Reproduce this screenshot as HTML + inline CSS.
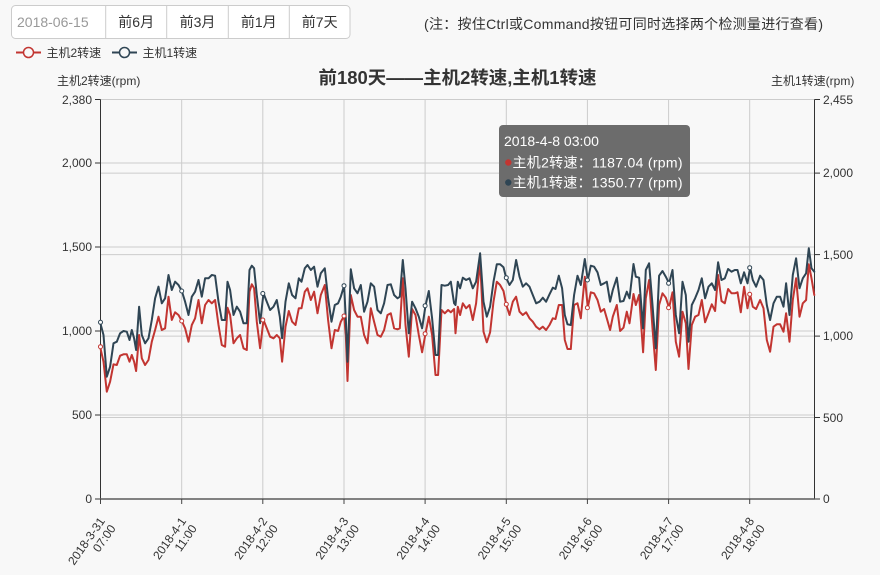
<!DOCTYPE html>
<html>
<head>
<meta charset="utf-8">
<style>
html,body{margin:0;padding:0;background:#f8f8f8;}
body{width:880px;height:575px;overflow:hidden;}
svg{display:block;}
text{font-family:"Liberation Sans","Noto Sans CJK SC",sans-serif;}
</style>
</head>
<body>
<svg width="880" height="575" viewBox="0 0 880 575" xmlns="http://www.w3.org/2000/svg">
<rect x="0" y="0" width="880" height="575" fill="#f8f8f8"/>

<!-- input group -->
<rect x="11.5" y="5.5" width="338.5" height="33" rx="4" ry="4" fill="#ffffff" stroke="#cccccc" stroke-width="1"/>
<line x1="105.7" y1="5.5" x2="105.7" y2="38.5" stroke="#cccccc"/>
<line x1="166.7" y1="5.5" x2="166.7" y2="38.5" stroke="#cccccc"/>
<line x1="228.3" y1="5.5" x2="228.3" y2="38.5" stroke="#cccccc"/>
<line x1="289.3" y1="5.5" x2="289.3" y2="38.5" stroke="#cccccc"/>
<text x="17" y="27" font-size="14" fill="#999999">2018-06-15</text>
<text x="136.2" y="27" font-size="14" fill="#333333" text-anchor="middle">前6月</text>
<text x="197.5" y="27" font-size="14" fill="#333333" text-anchor="middle">前3月</text>
<text x="258.8" y="27" font-size="14" fill="#333333" text-anchor="middle">前1月</text>
<text x="319.7" y="27" font-size="14" fill="#333333" text-anchor="middle">前7天</text>

<!-- note -->
<text x="424" y="29" font-size="14" fill="#333333" textLength="399" lengthAdjust="spacing">(注：按住Ctrl或Command按钮可同时选择两个检测量进行查看)</text>

<!-- legend -->
<line x1="16" y1="52.5" x2="41" y2="52.5" stroke="#c23531" stroke-width="2"/>
<circle cx="28.5" cy="52.5" r="5" fill="#f8f8f8" stroke="#c23531" stroke-width="1.5"/>
<text x="46.5" y="57" font-size="12" fill="#333333">主机2转速</text>
<line x1="112" y1="52.5" x2="137" y2="52.5" stroke="#2f4554" stroke-width="2"/>
<circle cx="124.5" cy="52.5" r="5" fill="#f8f8f8" stroke="#2f4554" stroke-width="1.5"/>
<text x="142.5" y="57" font-size="12" fill="#333333">主机1转速</text>

<!-- title -->
<text x="457.5" y="84" font-size="18" font-weight="bold" fill="#333333" text-anchor="middle" textLength="278" lengthAdjust="spacingAndGlyphs">前180天——主机2转速,主机1转速</text>

<!-- axis names -->
<text x="57" y="85" font-size="12" fill="#333333">主机2转速(rpm)</text>
<text x="771" y="85" font-size="12" fill="#333333">主机1转速(rpm)</text>

<!-- grid horizontal -->
<g stroke="#cccccc" stroke-width="1">
<line x1="100.5" y1="99.5" x2="814.5" y2="99.5"/>
<line x1="100.5" y1="163" x2="814.5" y2="163"/>
<line x1="100.5" y1="247" x2="814.5" y2="247"/>
<line x1="100.5" y1="331" x2="814.5" y2="331"/>
<line x1="100.5" y1="415" x2="814.5" y2="415"/>
<line x1="100.5" y1="173.1" x2="814.5" y2="173.1"/>
<line x1="100.5" y1="254.6" x2="814.5" y2="254.6"/>
<line x1="100.5" y1="336.1" x2="814.5" y2="336.1"/>
<line x1="100.5" y1="417.5" x2="814.5" y2="417.5"/>
<!-- grid vertical -->
<line x1="181.7" y1="99.5" x2="181.7" y2="499"/>
<line x1="262.8" y1="99.5" x2="262.8" y2="499"/>
<line x1="344" y1="99.5" x2="344" y2="499"/>
<line x1="425.1" y1="99.5" x2="425.1" y2="499"/>
<line x1="506.3" y1="99.5" x2="506.3" y2="499"/>
<line x1="587.4" y1="99.5" x2="587.4" y2="499"/>
<line x1="668.6" y1="99.5" x2="668.6" y2="499"/>
<line x1="749.7" y1="99.5" x2="749.7" y2="499"/>
</g>

<!-- left axis -->
<g stroke="#333333" stroke-width="1">
<line x1="100.5" y1="99.5" x2="100.5" y2="499"/>
<line x1="95" y1="99.5" x2="100.5" y2="99.5"/>
<line x1="95" y1="163" x2="100.5" y2="163"/>
<line x1="95" y1="247" x2="100.5" y2="247"/>
<line x1="95" y1="331" x2="100.5" y2="331"/>
<line x1="95" y1="415" x2="100.5" y2="415"/>
<line x1="95" y1="499" x2="100.5" y2="499"/>
<!-- right axis -->
<line x1="814.5" y1="99.5" x2="814.5" y2="499"/>
<line x1="814.5" y1="99.5" x2="820" y2="99.5"/>
<line x1="814.5" y1="173.1" x2="820" y2="173.1"/>
<line x1="814.5" y1="254.6" x2="820" y2="254.6"/>
<line x1="814.5" y1="336.1" x2="820" y2="336.1"/>
<line x1="814.5" y1="417.5" x2="820" y2="417.5"/>
<line x1="814.5" y1="499" x2="820" y2="499"/>
</g>
<g font-size="12" fill="#333333" text-anchor="end">
<text x="92" y="104">2,380</text>
<text x="92" y="167">2,000</text>
<text x="92" y="251">1,500</text>
<text x="92" y="335">1,000</text>
<text x="92" y="419">500</text>
<text x="92" y="503">0</text>
</g>
<g font-size="12" fill="#333333">
<text x="823" y="104">2,455</text>
<text x="823" y="177">2,000</text>
<text x="823" y="259">1,500</text>
<text x="823" y="340">1,000</text>
<text x="823" y="422">500</text>
<text x="823" y="503">0</text>
</g>

<!-- bottom axis -->
<line x1="100" y1="499" x2="815" y2="499" stroke="#5a5a5a" stroke-width="1.5"/>
<g stroke="#444444" stroke-width="1">
<line x1="100.5" y1="499" x2="100.5" y2="504"/>
<line x1="181.7" y1="499" x2="181.7" y2="504"/>
<line x1="262.8" y1="499" x2="262.8" y2="504"/>
<line x1="344" y1="499" x2="344" y2="504"/>
<line x1="425.1" y1="499" x2="425.1" y2="504"/>
<line x1="506.3" y1="499" x2="506.3" y2="504"/>
<line x1="587.4" y1="499" x2="587.4" y2="504"/>
<line x1="668.6" y1="499" x2="668.6" y2="504"/>
<line x1="749.7" y1="499" x2="749.7" y2="504"/>
</g>
<g font-size="12" fill="#333333" text-anchor="end">
<text transform="translate(105.5,521) rotate(-55)"><tspan x="0" y="0">2018-3-31</tspan><tspan x="0" y="13">07:00</tspan></text>
<text transform="translate(186.7,521) rotate(-55)"><tspan x="0" y="0">2018-4-1</tspan><tspan x="0" y="13">11:00</tspan></text>
<text transform="translate(267.8,521) rotate(-55)"><tspan x="0" y="0">2018-4-2</tspan><tspan x="0" y="13">12:00</tspan></text>
<text transform="translate(349,521) rotate(-55)"><tspan x="0" y="0">2018-4-3</tspan><tspan x="0" y="13">13:00</tspan></text>
<text transform="translate(430.1,521) rotate(-55)"><tspan x="0" y="0">2018-4-4</tspan><tspan x="0" y="13">14:00</tspan></text>
<text transform="translate(511.3,521) rotate(-55)"><tspan x="0" y="0">2018-4-5</tspan><tspan x="0" y="13">15:00</tspan></text>
<text transform="translate(592.4,521) rotate(-55)"><tspan x="0" y="0">2018-4-6</tspan><tspan x="0" y="13">16:00</tspan></text>
<text transform="translate(673.6,521) rotate(-55)"><tspan x="0" y="0">2018-4-7</tspan><tspan x="0" y="13">17:00</tspan></text>
<text transform="translate(754.7,521) rotate(-55)"><tspan x="0" y="0">2018-4-8</tspan><tspan x="0" y="13">18:00</tspan></text>
</g>

<!-- series -->
<g transform="translate(-1.2,0)" fill="none" stroke-width="2" stroke-linejoin="round" stroke-linecap="round">
<polyline stroke="#c23531" points="101.3,346.7 104.7,361.7 108,391.7 111.3,381.7 114.7,364.3 118,365 121.3,355.7 124.7,354.3 128,354.3 130.7,361.7 133,355 135.3,361.7 137.3,371 140.3,335 143,358.3 146.3,365 149.7,360 153,341.7 156.3,330 159.7,316.7 163,330 166.3,328.3 169.7,296.7 173,320 176.3,312.3 179.7,315 183,321 186.3,328.3 189.7,341.7 193,325 196.3,318.3 199.7,300 203,323.3 206.3,305 209.7,300 213,303.3 216.3,300 219.7,325 223,345 226.3,346.7 228.7,307.7 231.3,315 234.7,343.3 238,338.3 241.3,335 244.7,348.3 248,350 250.7,291.7 253,284.3 255.3,288.3 258,321.7 261.3,348.3 264.7,320 268,328.3 271.3,336.7 274.7,338.3 278,335 281,338.3 283.3,361.7 286.7,326.7 290,311 293.3,321.7 296.7,325 300,308.3 302.7,308.3 306,291.7 308.7,288.3 312,300 315.3,291.7 318.7,313.3 322,295 326,285 329.3,320 332.7,348.3 336,330 339.3,331 342,321.7 345.3,316 347,335 348.7,381 352,295 355.3,310 358.7,316.7 362,316.7 365.3,335 368.7,343.3 372,308.3 375.3,321.7 378.7,335 382,336.7 385.3,330 388.7,315 392,313.3 395.3,328.3 398.7,329.3 401,328.3 404,278.3 406.7,325 410,356.7 413.3,309 416.7,315 420,335 423.3,352.3 426.7,333.7 430,316.7 433.3,335 436.7,375 439.3,375 442.7,310 446,313.3 449.3,310 452,312.3 455.3,309 456.7,333.3 459,306.7 461.3,315 464,303.3 467.3,308.3 470.7,305 474,320 477.3,303.3 481.3,260 484.7,331.7 488,342.3 491.3,332.3 494.7,301.7 498,281.7 501.3,285 504.7,291 507.3,304.3 510.7,315 514,301.7 517.3,296.7 520.7,311.7 524,315 527.3,312.3 530.7,318.3 534,321.7 537.3,326.7 540.7,329.3 544,326.7 547.3,330 550.7,325 554,318.3 556.7,319 560,305 563.3,305 566,340 568.7,349 572,349 575.3,305 578.7,303.3 582,318.3 586,276.7 589,307.7 592,292.3 595.3,293.3 598.7,300 602,311.7 605.3,309 608,318.3 611.3,330 614,316.7 618,305 621.3,331 624.7,327.7 628,311.7 630.7,323.3 634.7,294 637,305 640.3,295 644.3,352.3 647,298.3 650.3,280 653.7,328.3 657,370 660.3,305 663.7,293.3 667,297.7 670.3,307.7 673.7,292.3 677,341.7 680.3,356.7 683.7,311.7 687,323.3 689.7,369 693,325 696.3,316.7 699.7,315 703,300 706.3,322.3 709.7,313.3 713,304.3 716.3,311 719.3,275 722.7,301 726,303.3 729.3,289 732.7,293.3 736,293.3 738.7,292.3 742,312.3 745.3,286.7 748.7,308.3 751.3,294.3 754,306.7 757.3,309 761.3,300 764.7,308.3 768,340 771.3,351.7 774.7,326.7 778,324.3 781.3,324.3 784.7,331.7 787.3,313.3 790.7,341.7 794,300 797.3,278.3 800.7,316.7 804,303.3 807.3,300 810,264.3 812.7,278.3 815.5,295"/>
<polyline stroke="#2f4554" points="101.3,322.3 104.7,335 108,376.7 111.3,366.7 114.7,343.3 118,341.7 121.3,333.3 124.7,331 128,331.7 130.7,340 133,330 135.3,338.3 137.3,350 140.3,306.7 143,335 146.3,343.3 149.7,338.3 153,320 156.3,298.3 159.7,286.7 163,303.3 166.3,298.3 169.7,275 173,290 176.3,281.7 179.7,285 183,291 186.3,301.7 189.7,315 193,296.7 196.3,291.7 199.7,280 203,296.7 206.3,278.3 209.7,278.3 213,275 216.3,275.7 219.7,301.7 223,320 226.3,320 228.7,281.7 231.3,290 234.7,315 238,306.7 241.3,311.7 244.7,323.3 248,323.3 250.7,270 253,265.7 255.3,268.3 258,295 261.3,323.3 264.7,293.3 268,301.7 271.3,310 274.7,306.7 278,300 281,316.7 283.3,338.3 286.7,301.7 290,283.3 293.3,295 296.7,298.3 300,278.3 302.7,281.7 306,268.3 308.7,265 312,270 315.3,266.7 318.7,286.7 322,273.3 326,268.3 329.3,298.3 332.7,321.7 336,305 339.3,303.3 342,296.7 345.3,285.7 347,318.3 348.7,361.7 352,269.3 355.3,288.3 358.7,293.3 362,285 365.3,311.7 368.7,301.7 372,283.3 375.3,286.7 378.7,310 382,313.3 385.3,303.3 388.7,285 392,284.3 395.3,295 398.7,298.3 401,296.7 404,260 406.7,288.3 410,333.3 413.3,301.7 416.7,308.3 420,316.7 423.3,328.3 426.7,305.7 430,291 433.3,318.3 436.7,355 439.3,355 442.7,285 446,285.7 449.3,285 452,281.7 455.3,303.3 456.7,305 459,281.7 461.3,288.3 464,277.7 467.3,280 470.7,278.3 474,288.3 477.3,281.7 481.3,253.3 484.7,301.7 488,316.7 491.3,306.7 494.7,281.7 498,264.3 501.3,264.3 504.7,267.3 507.3,277.7 510.7,285 514,280 517.3,260 520.7,276.7 524,286.7 527.3,283.3 530.7,286.7 534,295 537.3,303.3 540.7,301.7 544,297.7 547.3,301.7 550.7,294.3 554,287.7 556.7,289 560,275.7 563.3,288.3 566,315 568.7,324.3 572,325 575.3,295 578.7,275.7 582,285 586,259 589,280 592,265.7 595.3,266.7 598.7,272.3 602,285 605.3,283.3 608,281.7 611.3,301.7 614,290 618,277.7 621.3,301.7 624.7,301 628,291.7 630.7,298.3 634.7,264 637,276.7 640.3,277.7 644.3,328.3 647,270 650.3,263.3 653.7,305 657,348.3 660.3,275.7 663.7,271 667,276.7 670.3,283.3 673.7,270 677,315 680.3,333.3 683.7,281.7 687,295 689.7,341.7 693,305 696.3,298.3 699.7,290 703,278.3 706.3,298.3 709.7,286.7 713,283.3 716.3,290 719.3,262.3 722.7,280 726,278.3 729.3,269 732.7,271.7 736,270 738.7,270 742,283.3 745.3,272.3 748.7,283.3 751.3,267.7 754,280 757.3,286.7 761.3,275.7 764.7,280 768,305 771.3,320 774.7,303.3 778,296.7 781.3,296.7 784.7,306.7 787.3,283.3 790.7,315 794,275 797.3,258.3 800.7,288.3 804,278.3 807.3,273.3 810,248.3 812.7,268.3 815.5,271.7"/>
</g>

<!-- symbols at ticks -->
<g fill="#ffffff" stroke-width="1">
<g stroke="#c23531">
<circle cx="100.5" cy="346.7" r="2"/>
<circle cx="181.7" cy="321" r="2"/>
<circle cx="262.8" cy="320" r="2"/>
<circle cx="344" cy="316" r="2"/>
<circle cx="425.1" cy="333.7" r="2"/>
<circle cx="506.3" cy="304.3" r="2"/>
<circle cx="587.4" cy="307.7" r="2"/>
<circle cx="668.6" cy="307.7" r="2"/>
<circle cx="749.7" cy="294.3" r="2"/>
</g>
<g stroke="#2f4554">
<circle cx="100.5" cy="322.3" r="2"/>
<circle cx="181.7" cy="291" r="2"/>
<circle cx="262.8" cy="293.5" r="2"/>
<circle cx="344" cy="285.7" r="2"/>
<circle cx="425.1" cy="305.7" r="2"/>
<circle cx="506.3" cy="277.7" r="2"/>
<circle cx="587.4" cy="280" r="2"/>
<circle cx="668.6" cy="283.3" r="2"/>
<circle cx="749.7" cy="267.7" r="2"/>
</g>
</g>

<!-- tooltip -->
<rect x="499" y="125" width="191" height="72" rx="4" ry="4" fill="#6c6c6c"/>
<text x="504" y="146" font-size="14" fill="#ffffff">2018-4-8 03:00</text>
<circle cx="508.3" cy="162.5" r="3.2" fill="#c23531"/>
<text x="512.5" y="167.5" font-size="14" fill="#ffffff" textLength="170" lengthAdjust="spacing">主机2转速：1187.04 (rpm)</text>
<circle cx="508.3" cy="182.5" r="3.2" fill="#2f4554"/>
<text x="512.5" y="187.5" font-size="14" fill="#ffffff" textLength="170" lengthAdjust="spacing">主机1转速：1350.77 (rpm)</text>
</svg>
</body>
</html>
